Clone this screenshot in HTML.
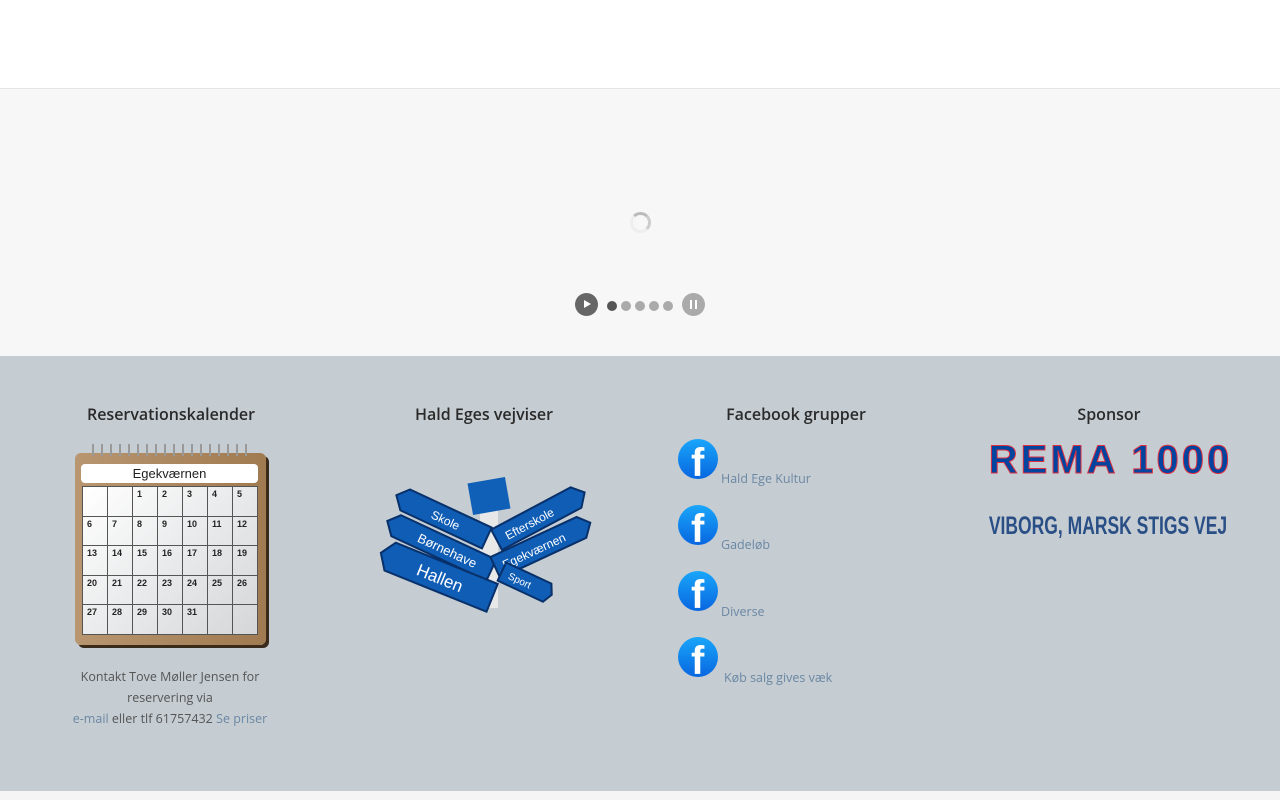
<!DOCTYPE html>
<html><head><meta charset="utf-8"><style>
*{margin:0;padding:0;box-sizing:border-box}
body{width:1280px;height:800px;overflow:hidden;background:#f5f5f5;font-family:"Open Sans","Liberation Sans",sans-serif;position:relative}
.hdr{position:absolute;left:0;top:0;width:1280px;height:88px;background:#fff;box-shadow:0 1px 3px rgba(0,0,0,.12)}
.sl{position:absolute;left:0;top:88px;width:1280px;height:268px;background:#f7f7f7;border-top:1px solid #e4e4e4}
.ft{position:absolute;left:0;top:356px;width:1280px;height:435px;background:#c5ccd2}
h3{position:absolute;font-size:16px;font-weight:600;color:#2a2a2a;text-align:center;width:300px;top:403px}
.a{color:#6b88a4;font-size:12.5px;position:absolute;white-space:nowrap}
.fb{position:absolute;left:678px;width:40px;height:40px;border-radius:50%;background:linear-gradient(#19a6fa,#0866e0);overflow:hidden}
.fb span{position:absolute;left:13px;top:2px;color:#fff;font:bold 40px "Liberation Sans",sans-serif;line-height:44px}
.dot{position:absolute;top:301px;width:10px;height:10px;border-radius:50%;background:#aaa}
.cal td{border:1px solid #555;font:bold 9px "Liberation Sans",sans-serif;vertical-align:top;padding:2px 0 0 4px;color:#222}
</style></head><body>
<div class="hdr"></div>
<div class="sl"></div>
<div style="position:absolute;left:630px;top:212px;width:21px;height:21px;border-radius:50%;border:3px solid #eee;border-top-color:#bbb;border-right-color:#ccc"></div>
<div style="position:absolute;left:575px;top:293px;width:23px;height:23px;border-radius:50%;background:#666"></div>
<div style="position:absolute;left:584px;top:300px;width:0;height:0;border-left:7px solid #fff;border-top:4.5px solid transparent;border-bottom:4.5px solid transparent"></div>
<div class="dot" style="left:607px;background:#555"></div>
<div class="dot" style="left:621px"></div><div class="dot" style="left:635px"></div><div class="dot" style="left:649px"></div><div class="dot" style="left:663px"></div>
<div style="position:absolute;left:682px;top:293px;width:23px;height:23px;border-radius:50%;background:#aaa"></div>
<div style="position:absolute;left:690px;top:300px;width:2px;height:9px;background:#fff"></div>
<div style="position:absolute;left:695px;top:300px;width:2px;height:9px;background:#fff"></div>
<div class="ft"></div>
<h3 style="left:21px">Reservationskalender</h3>
<h3 style="left:334px">Hald Eges vejviser</h3>
<h3 style="left:646px">Facebook grupper</h3>
<h3 style="left:959px">Sponsor</h3>
<!-- calendar -->
<div style="position:absolute;left:75px;top:453px;width:191px;height:192px;background:linear-gradient(90deg,#b89670,#a07a50);border-radius:6px;box-shadow:3px 3px 0 #3a2a1a"></div>
<div style="position:absolute;left:92px;top:444px;width:160px;height:12px;background:repeating-linear-gradient(90deg,#999 0 2px,transparent 2px 9px)"></div>
<div style="position:absolute;left:81px;top:464px;width:177px;height:19px;background:#fff;border-radius:4px;font:13px 'Liberation Sans',sans-serif;text-align:center;line-height:19px;color:#222">Egekværnen</div>
<table class="cal" style="position:absolute;left:82px;top:486px;width:176px;height:149px;border-collapse:collapse;background:linear-gradient(135deg,#fff,#d4d6d8)">
<tr><td></td><td></td><td>1</td><td>2</td><td>3</td><td>4</td><td>5</td></tr>
<tr><td>6</td><td>7</td><td>8</td><td>9</td><td>10</td><td>11</td><td>12</td></tr>
<tr><td>13</td><td>14</td><td>15</td><td>16</td><td>17</td><td>18</td><td>19</td></tr>
<tr><td>20</td><td>21</td><td>22</td><td>23</td><td>24</td><td>25</td><td>26</td></tr>
<tr><td>27</td><td>28</td><td>29</td><td>30</td><td>31</td><td></td><td></td></tr></table>
<div style="position:absolute;left:60px;top:666px;width:220px;text-align:center;font-size:12.5px;line-height:21px;color:#555">Kontakt Tove Møller Jensen for reservering via<br><span style="color:#6b88a4">e-mail</span> eller tlf 61757432 <span style="color:#6b88a4">Se priser</span></div>
<!-- signpost -->
<svg style="position:absolute;left:370px;top:460px" width="230" height="160" font-family="Liberation Sans,sans-serif" fill="#fff">
<rect x="110" y="40" width="18" height="108" fill="#e8e8e8"/>
<rect x="100" y="20" width="38" height="32" fill="#1060b8" transform="rotate(-10 119 36)"/>
<g transform="rotate(25 70 60)"><polygon points="30,45 120,45 120,68 30,68 20,56" fill="#0f5db5" stroke="#08306a" stroke-width="2"/><text x="60" y="62" font-size="12">Skole</text></g>
<g transform="rotate(25 70 90)"><polygon points="20,75 125,75 125,98 20,98 10,86" fill="#0f5db5" stroke="#08306a" stroke-width="2"/><text x="45" y="92" font-size="13">Børnehave</text></g>
<g transform="rotate(22 70 120)"><polygon points="15,102 125,102 125,132 15,132 5,117" fill="#0f5db5" stroke="#08306a" stroke-width="2"/><text x="45" y="124" font-size="17">Hallen</text></g>
<g transform="rotate(-28 170 55)"><polygon points="120,45 210,45 220,56 210,68 120,68" fill="#0f5db5" stroke="#08306a" stroke-width="2"/><text x="130" y="62" font-size="12">Efterskole</text></g>
<g transform="rotate(-25 170 85)"><polygon points="120,75 215,75 225,86 215,98 120,98" fill="#0f5db5" stroke="#08306a" stroke-width="2"/><text x="128" y="92" font-size="12">Egekværnen</text></g>
<g transform="rotate(25 150 120)"><polygon points="130,110 180,110 185,120 180,130 130,130" fill="#0f5db5" stroke="#08306a" stroke-width="2"/><text x="138" y="124" font-size="10">Sport</text></g>
</svg>
<!-- facebook -->
<div class="fb" style="top:439px"><span>f</span></div><div class="a" style="left:721px;top:470px">Hald Ege Kultur</div>
<div class="fb" style="top:505px"><span>f</span></div><div class="a" style="left:721px;top:536px">Gadeløb</div>
<div class="fb" style="top:571px"><span>f</span></div><div class="a" style="left:721px;top:603px">Diverse</div>
<div class="fb" style="top:637px"><span>f</span></div><div class="a" style="left:724px;top:669px">Køb salg gives væk</div>
<!-- rema -->
<div style="position:absolute;left:988px;top:438px;width:245px;text-align:center;font:bold 40px 'Liberation Sans',sans-serif;color:#0044a0;letter-spacing:3px;-webkit-text-stroke:1px #e03040;white-space:nowrap">REMA 1000</div>
<div style="position:absolute;left:908px;top:512px;width:400px;text-align:center;font:bold 25px 'Liberation Sans Narrow','Liberation Sans',sans-serif;color:#2a4f86;white-space:nowrap;transform:scaleX(.7);transform-origin:center">VIBORG, MARSK STIGS VEJ</div>
</body></html>
